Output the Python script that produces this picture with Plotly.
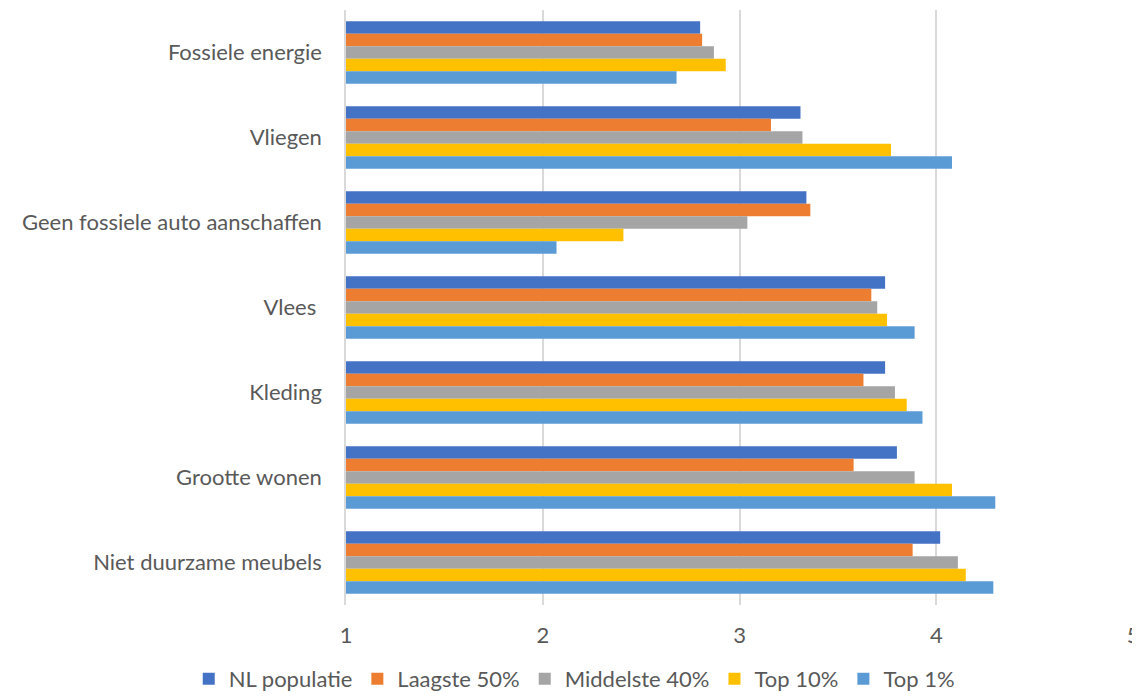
import plotly.graph_objects as go

categories = ['Fossiele energie', 'Vliegen', 'Geen fossiele auto aanschaffen', 'Vlees ',
              'Kleding', 'Grootte wonen', 'Niet duurzame meubels']

nl_populatie = [2.80, 3.31, 3.34, 3.74, 3.74, 3.80, 4.02]
laagste_50 = [2.81, 3.16, 3.36, 3.67, 3.63, 3.58, 3.88]
middelste_40 = [2.87, 3.32, 3.04, 3.70, 3.79, 3.89, 4.11]
top_10 = [2.93, 3.77, 2.41, 3.75, 3.85, 4.08, 4.15]
top_1 = [2.68, 4.08, 2.07, 3.89, 3.93, 4.30, 4.29]

SERIES = [
    ('NL populatie', nl_populatie, '#4472C4'),
    ('Laagste 50%', laagste_50, '#ED7D31'),
    ('Middelste 40%', middelste_40, '#A5A5A5'),
    ('Top 10%', top_10, '#FFC000'),
    ('Top 1%', top_1, '#5B9BD5'),
]

FONT = 'Lato, Calibri, sans-serif'
TEXT_GREY = '#595959'
GRID = '#d9d9d9'

fig = go.Figure()
for name, vals, color in SERIES:
    fig.add_trace(go.Bar(
        y=categories, x=vals, name=name, orientation='h',
        marker=dict(color=color, line=dict(width=0)),
    ))

# page body has an 8px margin, so margins are shifted by that much
fig.update_layout(
    width=1140, height=692,
    barmode='group', bargap=0.265, bargroupgap=0,
    paper_bgcolor='white', plot_bgcolor='white',
    font=dict(family=FONT, color=TEXT_GREY, size=22),
    margin=dict(l=338, r=15, t=2, b=95, autoexpand=False),
    legend=dict(
        orientation='h', xref='paper', yref='container',
        x=0.29, xanchor='center', y=0.0, yanchor='bottom',
        font=dict(size=22, color=TEXT_GREY), traceorder='normal',
        itemwidth=30,
    ),
)
fig.update_xaxes(
    range=[1, 5], dtick=1, tick0=1,
    showgrid=True, gridcolor=GRID, gridwidth=1.5,
    zeroline=False, showline=False, ticklabelstandoff=15,
    automargin=False,
)
fig.update_yaxes(
    autorange='reversed', showline=True, linecolor=GRID, linewidth=1.5,
    ticklabelstandoff=18, showgrid=False, automargin=False,
)

fig.write_html("out.html")
